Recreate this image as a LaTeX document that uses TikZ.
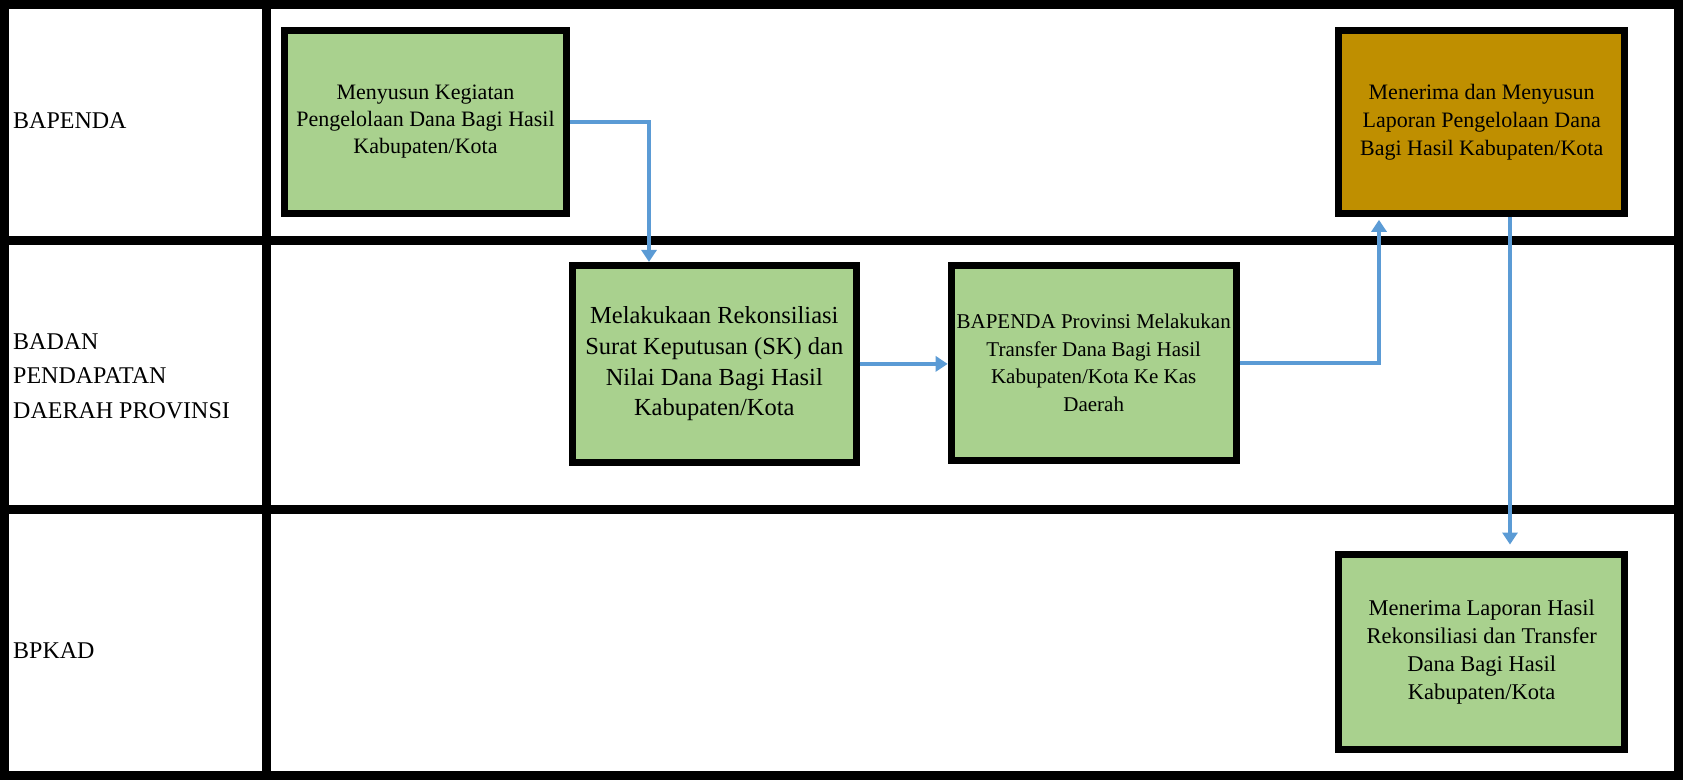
\documentclass[tikz,border=0pt]{standalone}
\usepackage{fontspec}
\setmainfont{Liberation Serif}
\usetikzlibrary{arrows.meta}
\definecolor{boxgreen}{HTML}{A9D18E}
\definecolor{boxgold}{HTML}{BF8F00}
\definecolor{flowblue}{HTML}{5B9BD5}
\tikzset{
  procbox/.style={draw=black, line width=7pt, fill=boxgreen, align=center, inner sep=0pt,
    font=\fontsize{22}{27.5}\selectfont},
  flow/.style={draw=flowblue, line width=3.5pt, -{Triangle[width=15pt,length=12pt]}},
  lanelabel/.style={anchor=west, align=left, inner sep=0pt, font=\fontsize{24}{34.5}\selectfont},
  frameline/.style={draw=black, line width=9pt}
}
\begin{document}
\begin{tikzpicture}[x=1pt, y=-1pt]
\useasboundingbox (0,0) rectangle (1683,780);
% frame and lanes
\draw[frameline] (4.5,4.5) rectangle (1678.5,775.5);
\draw[frameline] (266,0) -- (266,780);
\draw[frameline] (0,240.5) -- (1683,240.5);
\draw[frameline] (0,509) -- (1683,509);
% lane labels
\node[lanelabel] (l1) at (13,121) {BAPENDA};
\node[lanelabel] (l2) at (13,376) {BADAN\\PENDAPATAN\\DAERAH PROVINSI};
\node[lanelabel] (l3) at (13,651) {BPKAD};
% boxes
\node[procbox, minimum width=281.7pt, minimum height=183pt,
  font=\fontsize{22}{27}\selectfont] (b1) at (425.5,121.8)
  {Menyusun Kegiatan\\Pengelolaan Dana Bagi Hasil\\Kabupaten/Kota};
\node[procbox, minimum width=283.8pt, minimum height=196.9pt,
  font=\fontsize{24.5}{30.6}\selectfont] (b2) at (714.3,363.9)
  {Melakukaan Rekonsiliasi\\Surat Keputusan (SK) dan\\Nilai Dana Bagi Hasil\\Kabupaten/Kota};
\node[procbox, minimum width=285pt, minimum height=194.8pt,
  font=\fontsize{21}{27.4}\selectfont] (b3) at (1093.7,362.8)
  {BAPENDA Provinsi Melakukan\\Transfer Dana Bagi Hasil\\Kabupaten/Kota Ke Kas\\Daerah};
\node[procbox, fill=boxgold, minimum width=286pt, minimum height=183pt,
  font=\fontsize{22}{28}\selectfont] (b4) at (1481.7,121.8)
  {Menerima dan Menyusun\\Laporan Pengelolaan Dana\\Bagi Hasil Kabupaten/Kota};
\node[procbox, minimum width=286pt, minimum height=195.9pt,
  font=\fontsize{22.5}{28}\selectfont] (b5) at (1481.7,652)
  {Menerima Laporan Hasil\\Rekonsiliasi dan Transfer\\Dana Bagi Hasil\\Kabupaten/Kota};
% connectors
\coordinate (a1) at (649,0);
\coordinate (a3) at (1379,0);
\coordinate (a4) at (1510,0);
\draw[flow] (b1.east) -| (a1 |- b2.north);
\draw[flow] (b2.east) -- (b2.east -| b3.west);
\draw[flow, shorten >=3pt] (b3.east) -| (a3 |- b4.south);
\draw[flow, shorten >=6pt] (a4 |- b4.south) -- (a4 |- b5.north);
\end{tikzpicture}
\end{document}
